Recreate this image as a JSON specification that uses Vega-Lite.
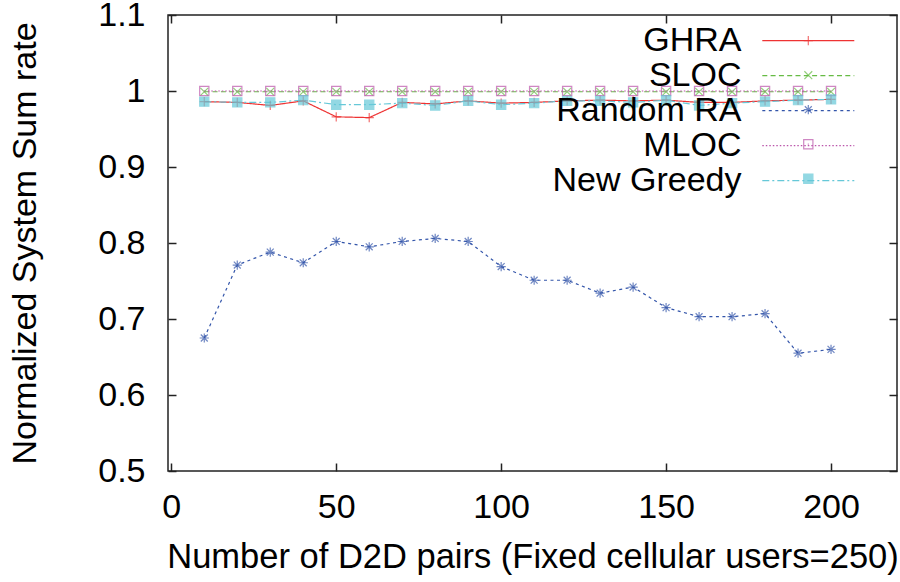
{
  "$schema": "https://vega.github.io/schema/vega-lite/v6.json",
  "width": 729,
  "height": 456,
  "autosize": {"type": "none"},
  "padding": {"left": 168, "top": 15, "right": 3, "bottom": 111},
  "background": "white",
  "config": {
    "view": {"stroke": "#222", "strokeWidth": 1.5},
    "font": "Liberation Sans",
    "axis": {
      "domain": false,
      "grid": false,
      "tickSize": -8,
      "tickColor": "#222",
      "tickWidth": 1.5,
      "labelFont": "Liberation Sans",
      "labelFontSize": 34,
      "labelColor": "#000",
      "titleFont": "Liberation Sans",
      "titleFontSize": 34,
      "titleFontWeight": "normal",
      "titleColor": "#000"
    },
    "legend": {
      "padding": 0,
      "labelFont": "Liberation Sans",
      "labelFontSize": 34,
      "labelColor": "#000",
      "labelLimit": 0,
      "labelAlign": "right",
      "labelBaseline": "middle",
      "orient": "none",
      "legendX": 593.3,
      "title": null
    }
  },
  "data": {
    "values": [
      {"x": 10, "series": "GHRA", "v": 0.986}, {"x": 20, "series": "GHRA", "v": 0.985}, {"x": 30, "series": "GHRA", "v": 0.981}, {"x": 40, "series": "GHRA", "v": 0.987}, {"x": 50, "series": "GHRA", "v": 0.966}, {"x": 60, "series": "GHRA", "v": 0.965}, {"x": 70, "series": "GHRA", "v": 0.985}, {"x": 80, "series": "GHRA", "v": 0.983}, {"x": 90, "series": "GHRA", "v": 0.987}, {"x": 100, "series": "GHRA", "v": 0.984},
      {"x": 110, "series": "GHRA", "v": 0.985}, {"x": 120, "series": "GHRA", "v": 0.987}, {"x": 130, "series": "GHRA", "v": 0.988}, {"x": 140, "series": "GHRA", "v": 0.987}, {"x": 150, "series": "GHRA", "v": 0.988}, {"x": 160, "series": "GHRA", "v": 0.985}, {"x": 170, "series": "GHRA", "v": 0.985}, {"x": 180, "series": "GHRA", "v": 0.987}, {"x": 190, "series": "GHRA", "v": 0.988}, {"x": 200, "series": "GHRA", "v": 0.989},
      {"x": 10, "series": "SLOC", "v": 0.999}, {"x": 20, "series": "SLOC", "v": 0.999}, {"x": 30, "series": "SLOC", "v": 0.999}, {"x": 40, "series": "SLOC", "v": 0.999}, {"x": 50, "series": "SLOC", "v": 0.999}, {"x": 60, "series": "SLOC", "v": 0.999}, {"x": 70, "series": "SLOC", "v": 0.999}, {"x": 80, "series": "SLOC", "v": 0.999}, {"x": 90, "series": "SLOC", "v": 0.999}, {"x": 100, "series": "SLOC", "v": 0.999},
      {"x": 110, "series": "SLOC", "v": 0.999}, {"x": 120, "series": "SLOC", "v": 0.999}, {"x": 130, "series": "SLOC", "v": 0.999}, {"x": 140, "series": "SLOC", "v": 0.999}, {"x": 150, "series": "SLOC", "v": 0.999}, {"x": 160, "series": "SLOC", "v": 0.999}, {"x": 170, "series": "SLOC", "v": 0.999}, {"x": 180, "series": "SLOC", "v": 0.999}, {"x": 190, "series": "SLOC", "v": 0.999}, {"x": 200, "series": "SLOC", "v": 0.999},
      {"x": 10, "series": "Random RA", "v": 0.675}, {"x": 20, "series": "Random RA", "v": 0.771}, {"x": 30, "series": "Random RA", "v": 0.788}, {"x": 40, "series": "Random RA", "v": 0.774}, {"x": 50, "series": "Random RA", "v": 0.802}, {"x": 60, "series": "Random RA", "v": 0.795}, {"x": 70, "series": "Random RA", "v": 0.802}, {"x": 80, "series": "Random RA", "v": 0.806}, {"x": 90, "series": "Random RA", "v": 0.802}, {"x": 100, "series": "Random RA", "v": 0.769},
      {"x": 110, "series": "Random RA", "v": 0.751}, {"x": 120, "series": "Random RA", "v": 0.751}, {"x": 130, "series": "Random RA", "v": 0.734}, {"x": 140, "series": "Random RA", "v": 0.742}, {"x": 150, "series": "Random RA", "v": 0.715}, {"x": 160, "series": "Random RA", "v": 0.703}, {"x": 170, "series": "Random RA", "v": 0.703}, {"x": 180, "series": "Random RA", "v": 0.707}, {"x": 190, "series": "Random RA", "v": 0.655}, {"x": 200, "series": "Random RA", "v": 0.660},
      {"x": 10, "series": "MLOC", "v": 1.0}, {"x": 20, "series": "MLOC", "v": 1.0}, {"x": 30, "series": "MLOC", "v": 1.0}, {"x": 40, "series": "MLOC", "v": 1.0}, {"x": 50, "series": "MLOC", "v": 1.0}, {"x": 60, "series": "MLOC", "v": 1.0}, {"x": 70, "series": "MLOC", "v": 1.0}, {"x": 80, "series": "MLOC", "v": 1.0}, {"x": 90, "series": "MLOC", "v": 1.0}, {"x": 100, "series": "MLOC", "v": 1.0},
      {"x": 110, "series": "MLOC", "v": 1.0}, {"x": 120, "series": "MLOC", "v": 1.0}, {"x": 130, "series": "MLOC", "v": 1.0}, {"x": 140, "series": "MLOC", "v": 1.0}, {"x": 150, "series": "MLOC", "v": 1.0}, {"x": 160, "series": "MLOC", "v": 1.0}, {"x": 170, "series": "MLOC", "v": 1.0}, {"x": 180, "series": "MLOC", "v": 1.0}, {"x": 190, "series": "MLOC", "v": 1.0}, {"x": 200, "series": "MLOC", "v": 1.0},
      {"x": 10, "series": "New Greedy", "v": 0.986}, {"x": 20, "series": "New Greedy", "v": 0.985}, {"x": 30, "series": "New Greedy", "v": 0.985}, {"x": 40, "series": "New Greedy", "v": 0.988}, {"x": 50, "series": "New Greedy", "v": 0.982}, {"x": 60, "series": "New Greedy", "v": 0.982}, {"x": 70, "series": "New Greedy", "v": 0.984}, {"x": 80, "series": "New Greedy", "v": 0.981}, {"x": 90, "series": "New Greedy", "v": 0.987}, {"x": 100, "series": "New Greedy", "v": 0.982},
      {"x": 110, "series": "New Greedy", "v": 0.984}, {"x": 120, "series": "New Greedy", "v": 0.987}, {"x": 130, "series": "New Greedy", "v": 0.987}, {"x": 140, "series": "New Greedy", "v": 0.985}, {"x": 150, "series": "New Greedy", "v": 0.988}, {"x": 160, "series": "New Greedy", "v": 0.981}, {"x": 170, "series": "New Greedy", "v": 0.984}, {"x": 180, "series": "New Greedy", "v": 0.986}, {"x": 190, "series": "New Greedy", "v": 0.988}, {"x": 200, "series": "New Greedy", "v": 0.989}
    ]
  },
  "layer": [
    {
      "mark": {"type": "line", "strokeWidth": 1.2, "clip": true},
      "encoding": {
        "x": {
          "field": "x", "type": "quantitative",
          "scale": {"domain": [-1, 220], "nice": false, "zero": false},
          "axis": {"orient": "bottom", "values": [0, 50, 100, 150, 200], "labelPadding": 54, "labelBaseline": "alphabetic", "title": "Number of D2D pairs (Fixed cellular users=250)", "titleFontSize": 34.5, "titleBaseline": "alphabetic", "titleY": 96}
        },
        "y": {
          "field": "v", "type": "quantitative",
          "scale": {"domain": [0.5, 1.1], "nice": false, "zero": false},
          "axis": {"orient": "left", "values": [0.5, 0.6, 0.7, 0.8, 0.9, 1.0, 1.1], "format": "~g", "labelPadding": 31, "title": "Normalized System Sum rate", "titleBaseline": "alphabetic", "titleX": -133}
        },
        "color": {
          "field": "series", "type": "nominal", "legend": null,
          "scale": {"domain": ["GHRA", "SLOC", "Random RA", "MLOC", "New Greedy"], "range": ["#ee3333", "#66bb44", "#3355aa", "#bb55aa", "#66c8d8"]}
        },
        "strokeDash": {
          "field": "series", "type": "nominal",
          "sort": ["GHRA", "SLOC", "Random RA", "MLOC", "New Greedy"],
          "scale": {"range": [[1, 0], [5, 3.3], [3, 3.5], [1.5, 2], [7, 3, 2, 3]]},
          "legend": {
            "symbolType": "M-2.788,0L2.788,0", "symbolSize": 1089, "symbolStrokeWidth": 1.2,
            "symbolOffset": 29.5, "labelOffset": -84.3, "legendY": 8.2, "rowPadding": 0,
            "symbolStrokeColor": {"expr": "datum.value === 'GHRA' ? '#ee3333' : datum.value === 'SLOC' ? '#66bb44' : datum.value === 'Random RA' ? '#3355aa' : datum.value === 'MLOC' ? '#bb55aa' : '#66c8d8'"}
          }
        }
      }
    },
    {
      "mark": {"type": "point", "filled": false, "strokeWidth": 1.2, "size": 85},
      "transform": [{"filter": "datum.v > 0"}],
      "encoding": {
        "x": {"field": "x", "type": "quantitative", "axis": {"orient": "top", "values": [0, 50, 100, 150, 200], "labels": false, "title": null}},
        "y": {"field": "v", "type": "quantitative", "axis": {"orient": "right", "values": [0.5, 0.6, 0.7, 0.8, 0.9, 1.0, 1.1], "labels": false, "title": null}},
        "color": {"field": "series", "type": "nominal", "legend": null},
        "fill": {
          "field": "series", "type": "nominal", "legend": null,
          "scale": {"domain": ["GHRA", "SLOC", "Random RA", "MLOC", "New Greedy"], "range": ["transparent", "transparent", "transparent", "transparent", "#66c8d8"]}
        },
        "shape": {
          "field": "series", "type": "nominal",
          "sort": ["GHRA", "SLOC", "Random RA", "MLOC", "New Greedy"],
          "scale": {"range": [
            "M-1,0L1,0M0,-1L0,1",
            "M-0.85,-0.85L0.85,0.85M-0.85,0.85L0.85,-0.85",
            "M-1,0L1,0M0,-1L0,1M-0.75,-0.75L0.75,0.75M-0.75,0.75L0.75,-0.75",
            "M-1,-1L1,-1L1,1L-1,1ZM-0.12,0L0.12,0",
            "M-1,-1L1,-1L1,1L-1,1Z"
          ]},
          "legend": {
            "symbolSize": 85, "symbolStrokeWidth": 1.2,
            "symbolOffset": 30, "labelOpacity": 0, "labelExpr": "''", "labelOffset": -55.3, "legendY": 8.7, "rowPadding": 0.5,
            "symbolStrokeColor": {"expr": "datum.value === 'GHRA' ? '#ee3333' : datum.value === 'SLOC' ? '#66bb44' : datum.value === 'Random RA' ? '#3355aa' : datum.value === 'MLOC' ? '#bb55aa' : '#66c8d8'"},
            "symbolFillColor": {"expr": "datum.value === 'New Greedy' ? '#66c8d8' : 'transparent'"}
          }
        }
      }
    }
  ],
  "resolve": {"axis": {"x": "independent", "y": "independent"}}
}
